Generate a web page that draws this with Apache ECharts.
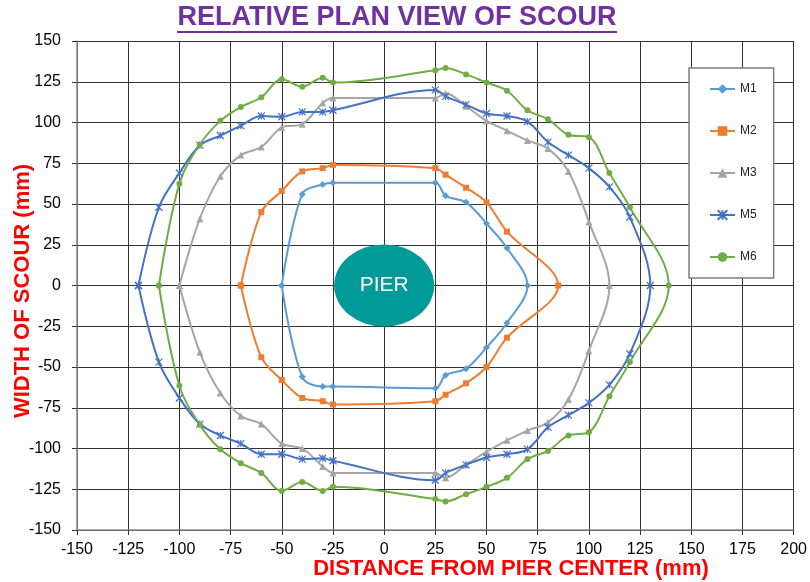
<!DOCTYPE html>
<html>
<head>
<meta charset="utf-8">
<title>Relative plan view of scour</title>
<script src="https://cdn.jsdelivr.net/npm/echarts/dist/echarts.min.js"></script>
<style>
  html, body { margin: 0; padding: 0; background: #fff; }
  #main { width: 810px; height: 582px; }
</style>
</head>
<body>
<div id="main"></div>
<script>
// measured outlines, [x, y] in mm, walked round the pier: left -> top -> right -> bottom -> left
var m1 = [[-50,0],[-40,56],[-30,62],[-25,63],[25,63],[30,55],[40,51],[50,38],[60,23],[70,0],
  [60,-23],[50,-38],[40,-51],[30,-55],[25,-63],[-25,-62],[-30,-62],[-40,-56],[-50,0]];
var m2 = [[-70,0],[-60,45],[-50,58],[-40,70],[-30,72],[-25,74],[25,72],[30,68],[40,60],[50,51],[60,33],[85,0],
  [60,-32],[50,-50],[40,-60],[30,-67],[25,-71],[-25,-73],[-30,-71],[-40,-69],[-50,-58],[-60,-44],[-70,0]];
var m3 = [[-100,0],[-90,41],[-80,67],[-70,80],[-60,85],[-50,97],[-40,99],[-30,112],[-25,115],[25,115],[30,118],
  [40,110],[50,101],[60,95],[70,89],[80,84],[90,70],[100,39],[110,0],
  [100,-40],[90,-70],[80,-84],[70,-89],[60,-95],[50,-102],[40,-110],[30,-118],[25,-115],[-25,-115],
  [-30,-111],[-40,-100],[-50,-97],[-60,-85],[-70,-80],[-80,-66],[-90,-41],[-100,0]];
var m5 = [[-120,0],[-110,48],[-100,69],[-90,86],[-80,92],[-70,98],[-60,104],[-50,103.5],[-40,106.5],[-30,106.5],
  [-25,107.5],[25,120],[30,116],[40,111],[50,105.5],[60,104],[70,100.5],[80,88],[90,80],[100,72],[110,60.5],
  [120,42],[130,0],
  [120,-42],[110,-61],[100,-72],[90,-79.5],[80,-87],[70,-100.5],[60,-103.5],[50,-105.5],[40,-110],[30,-115],
  [25,-119.5],[-25,-107.5],[-30,-106],[-40,-106.5],[-50,-103.5],[-60,-103.5],[-70,-97],[-80,-92],[-90,-85],
  [-100,-69],[-110,-47],[-120,0]];
var m6 = [[-110,0],[-100,62.5],[-90,86.5],[-80,101],[-70,109.5],[-60,115.5],[-50,126.5],[-40,122],[-30,127.5],
  [-25,124.5],[25,132],[30,133.5],[40,129.5],[50,124.5],[60,119.5],[70,107.5],[80,102],[90,92.5],[100,91],
  [110,69],[120,48],[139,0],
  [120,-47],[110,-68],[100,-90],[90,-92],[80,-101.5],[70,-106.5],[60,-118],[50,-123.5],[40,-128],[30,-132.5],
  [25,-131],[-25,-123.5],[-30,-126],[-40,-120.5],[-50,-126],[-60,-115],[-70,-109],[-80,-100.5],[-90,-85.5],
  [-100,-61.5],[-110,0]];
var pier = [[0, 0]];

var seriesNames = ['M1', 'M2', 'M3', 'M5', 'M6'];
var seriesData = [m1, m2, m3, m5, m6];
var seriesColors = ['#5B9BD5', '#ED7D31', '#A5A5A5', '#4472C4', '#70AD47'];
var seriesSymbols = ['diamond', 'rect', 'triangle', 'path://M0,0L10,10M10,0L0,10M5,0L5,10', 'circle'];
var symbolSizes = [7, 6, 7, 7, 6];

var xMin = -150, xMax = 200, yMin = -150, yMax = 150, step = 25;

var FONT = '"Liberation Sans", Arial, sans-serif';

var myChart = echarts.init(document.getElementById('main'));

var series = seriesNames.map(function (name, i) {
    return {
        name: name,
        type: 'line',
        data: seriesData[i],
        smooth: 0.35,
        symbol: seriesSymbols[i],
        symbolSize: symbolSizes[i],
        showAllSymbol: true,
        lineStyle: { color: seriesColors[i], width: 2 },
        itemStyle: {
            color: seriesColors[i],
            borderColor: seriesColors[i],
            borderWidth: i === 3 ? 1.2 : 0
        },
        z: 3
    };
});

// the pier, drawn at the origin
series.push({
    name: 'PIER',
    type: 'scatter',
    data: pier,
    symbol: 'circle',
    symbolSize: [100, 82],
    itemStyle: { color: '#009A98', opacity: 1 },
    label: {
        show: true,
        position: 'inside',
        formatter: 'PIER',
        color: '#fff',
        fontFamily: FONT,
        fontSize: 21
    },
    silent: true,
    z: 2
});

var option = {
    animation: false,
    textStyle: { fontFamily: FONT },
    grid: { left: 77, right: 15, top: 41, bottom: 52, containLabel: false },
    xAxis: {
        type: 'value',
        min: xMin,
        max: xMax,
        interval: step,
        axisLine: { show: true, onZero: false, lineStyle: { color: '#8c8c8c', width: 1.5 } },
        axisTick: { show: true, length: 5, lineStyle: { color: '#333' } },
        axisLabel: { color: '#000', fontSize: 16, margin: 12, fontFamily: FONT },
        splitLine: { show: true, lineStyle: { color: '#333', width: 1 } }
    },
    yAxis: {
        type: 'value',
        min: yMin,
        max: yMax,
        interval: step,
        axisLine: { show: true, onZero: false, lineStyle: { color: '#8c8c8c', width: 1.5 } },
        axisTick: { show: true, length: 5, lineStyle: { color: '#333' } },
        axisLabel: { color: '#000', fontSize: 16, margin: 16, fontFamily: FONT },
        splitLine: { show: true, lineStyle: { color: '#333', width: 1 } }
    },
    legend: {
        data: seriesNames,
        orient: 'vertical',
        left: 689,
        top: 68,
        padding: [15, 17, 15, 20],
        itemWidth: 25,
        itemHeight: 12,
        itemGap: 30,
        backgroundColor: '#fff',
        borderColor: '#7f7f7f',
        borderWidth: 1.5,
        textStyle: { color: '#222', fontSize: 12, fontFamily: FONT }
    },
    graphic: [
        {
            type: 'text', x: 397, y: 18,
            style: { text: 'RELATIVE PLAN VIEW OF SCOUR', fill: '#7030A0',
                     font: 'bold 27px ' + FONT, align: 'center', verticalAlign: 'middle' }
        },
        {
            type: 'rect', shape: { x: 177, y: 31, width: 440, height: 2 },
            style: { fill: '#7030A0' }
        },
        {
            type: 'text', x: 511, y: 569,
            style: { text: 'DISTANCE FROM PIER CENTER (mm)', fill: '#FF0000',
                     font: 'bold 22px ' + FONT, align: 'center', verticalAlign: 'middle' }
        },
        {
            type: 'text', x: 23, y: 291, rotation: Math.PI / 2,
            style: { text: 'WIDTH OF SCOUR (mm)', fill: '#FF0000',
                     font: 'bold 22px ' + FONT, align: 'center', verticalAlign: 'middle' }
        }
    ],
    series: series
};

myChart.setOption(option);
</script>
</body>
</html>
